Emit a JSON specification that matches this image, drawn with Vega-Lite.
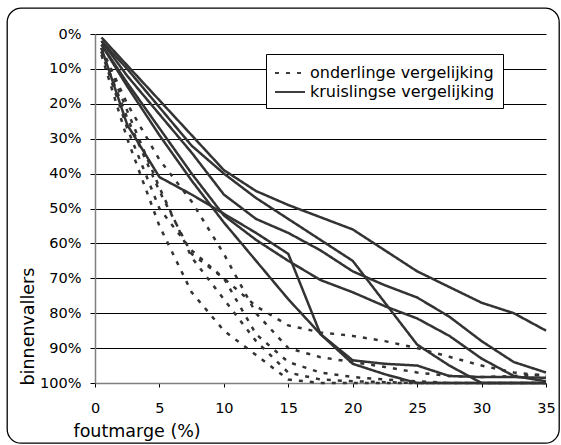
{
  "$schema": "https://vega.github.io/schema/vega-lite/v6.json",
  "width": 552,
  "height": 435,
  "autosize": {"type": "none"},
  "padding": {"left": 7, "top": 8, "right": 2, "bottom": 2},
  "background": "white",
  "config": {
    "view": {"stroke": "#000", "strokeWidth": 1.3, "cornerRadius": 14, "fill": "white"},
    "font": "DejaVu Sans"
  },
  "data": {"values": [
    {"s":"S1","t":"kruislingse vergelijking","x":0.5,"y":1},{"s":"S1","t":"kruislingse vergelijking","x":2.5,"y":9},{"s":"S1","t":"kruislingse vergelijking","x":5,"y":19},{"s":"S1","t":"kruislingse vergelijking","x":7.5,"y":29},{"s":"S1","t":"kruislingse vergelijking","x":10,"y":39},{"s":"S1","t":"kruislingse vergelijking","x":12.5,"y":45},{"s":"S1","t":"kruislingse vergelijking","x":15,"y":49},{"s":"S1","t":"kruislingse vergelijking","x":17.5,"y":52.5},{"s":"S1","t":"kruislingse vergelijking","x":20,"y":56},{"s":"S1","t":"kruislingse vergelijking","x":22.5,"y":62},{"s":"S1","t":"kruislingse vergelijking","x":25,"y":68},{"s":"S1","t":"kruislingse vergelijking","x":27.5,"y":72.5},{"s":"S1","t":"kruislingse vergelijking","x":30,"y":77},{"s":"S1","t":"kruislingse vergelijking","x":32.5,"y":80},{"s":"S1","t":"kruislingse vergelijking","x":35,"y":85},
    {"s":"S2","t":"kruislingse vergelijking","x":0.5,"y":2},{"s":"S2","t":"kruislingse vergelijking","x":2.5,"y":12},{"s":"S2","t":"kruislingse vergelijking","x":5,"y":23},{"s":"S2","t":"kruislingse vergelijking","x":7.5,"y":34},{"s":"S2","t":"kruislingse vergelijking","x":10,"y":46},{"s":"S2","t":"kruislingse vergelijking","x":12.5,"y":53},{"s":"S2","t":"kruislingse vergelijking","x":15,"y":57},{"s":"S2","t":"kruislingse vergelijking","x":17.5,"y":62},{"s":"S2","t":"kruislingse vergelijking","x":20,"y":68},{"s":"S2","t":"kruislingse vergelijking","x":22.5,"y":72},{"s":"S2","t":"kruislingse vergelijking","x":25,"y":75.5},{"s":"S2","t":"kruislingse vergelijking","x":27.5,"y":81},{"s":"S2","t":"kruislingse vergelijking","x":30,"y":88},{"s":"S2","t":"kruislingse vergelijking","x":32.5,"y":94},{"s":"S2","t":"kruislingse vergelijking","x":35,"y":97},
    {"s":"S3","t":"kruislingse vergelijking","x":0.5,"y":3},{"s":"S3","t":"kruislingse vergelijking","x":2.5,"y":14},{"s":"S3","t":"kruislingse vergelijking","x":5,"y":27},{"s":"S3","t":"kruislingse vergelijking","x":7.5,"y":40},{"s":"S3","t":"kruislingse vergelijking","x":10,"y":52},{"s":"S3","t":"kruislingse vergelijking","x":12.5,"y":59},{"s":"S3","t":"kruislingse vergelijking","x":15,"y":65},{"s":"S3","t":"kruislingse vergelijking","x":17.5,"y":70.5},{"s":"S3","t":"kruislingse vergelijking","x":20,"y":74},{"s":"S3","t":"kruislingse vergelijking","x":22.5,"y":78},{"s":"S3","t":"kruislingse vergelijking","x":25,"y":81.5},{"s":"S3","t":"kruislingse vergelijking","x":27.5,"y":86.5},{"s":"S3","t":"kruislingse vergelijking","x":30,"y":93},{"s":"S3","t":"kruislingse vergelijking","x":32.5,"y":98},{"s":"S3","t":"kruislingse vergelijking","x":35,"y":99.5},
    {"s":"S4","t":"kruislingse vergelijking","x":0.5,"y":2},{"s":"S4","t":"kruislingse vergelijking","x":2.5,"y":10},{"s":"S4","t":"kruislingse vergelijking","x":5,"y":21},{"s":"S4","t":"kruislingse vergelijking","x":7.5,"y":32},{"s":"S4","t":"kruislingse vergelijking","x":10,"y":40},{"s":"S4","t":"kruislingse vergelijking","x":12.5,"y":47},{"s":"S4","t":"kruislingse vergelijking","x":15,"y":53},{"s":"S4","t":"kruislingse vergelijking","x":17.5,"y":59},{"s":"S4","t":"kruislingse vergelijking","x":20,"y":65},{"s":"S4","t":"kruislingse vergelijking","x":22.5,"y":77},{"s":"S4","t":"kruislingse vergelijking","x":25,"y":89},{"s":"S4","t":"kruislingse vergelijking","x":27.5,"y":95},{"s":"S4","t":"kruislingse vergelijking","x":30,"y":100},{"s":"S4","t":"kruislingse vergelijking","x":32.5,"y":100},{"s":"S4","t":"kruislingse vergelijking","x":35,"y":100},
    {"s":"S5","t":"kruislingse vergelijking","x":0.5,"y":4},{"s":"S5","t":"kruislingse vergelijking","x":2.5,"y":26},{"s":"S5","t":"kruislingse vergelijking","x":5,"y":41},{"s":"S5","t":"kruislingse vergelijking","x":7.5,"y":46},{"s":"S5","t":"kruislingse vergelijking","x":10,"y":51.5},{"s":"S5","t":"kruislingse vergelijking","x":12.5,"y":57},{"s":"S5","t":"kruislingse vergelijking","x":15,"y":63},{"s":"S5","t":"kruislingse vergelijking","x":17.5,"y":86},{"s":"S5","t":"kruislingse vergelijking","x":20,"y":93.5},{"s":"S5","t":"kruislingse vergelijking","x":22.5,"y":94.5},{"s":"S5","t":"kruislingse vergelijking","x":25,"y":95},{"s":"S5","t":"kruislingse vergelijking","x":27.5,"y":98},{"s":"S5","t":"kruislingse vergelijking","x":30,"y":98.3},{"s":"S5","t":"kruislingse vergelijking","x":32.5,"y":98.3},{"s":"S5","t":"kruislingse vergelijking","x":35,"y":98.5},
    {"s":"S6","t":"kruislingse vergelijking","x":0.5,"y":3},{"s":"S6","t":"kruislingse vergelijking","x":2.5,"y":15},{"s":"S6","t":"kruislingse vergelijking","x":5,"y":29},{"s":"S6","t":"kruislingse vergelijking","x":7.5,"y":42},{"s":"S6","t":"kruislingse vergelijking","x":10,"y":54},{"s":"S6","t":"kruislingse vergelijking","x":12.5,"y":65},{"s":"S6","t":"kruislingse vergelijking","x":15,"y":76},{"s":"S6","t":"kruislingse vergelijking","x":17.5,"y":86},{"s":"S6","t":"kruislingse vergelijking","x":20,"y":94.5},{"s":"S6","t":"kruislingse vergelijking","x":22.5,"y":97.5},{"s":"S6","t":"kruislingse vergelijking","x":25,"y":100},{"s":"S6","t":"kruislingse vergelijking","x":27.5,"y":100},{"s":"S6","t":"kruislingse vergelijking","x":30,"y":100},{"s":"S6","t":"kruislingse vergelijking","x":32.5,"y":100},{"s":"S6","t":"kruislingse vergelijking","x":35,"y":100},
    {"s":"D1","t":"onderlinge vergelijking","x":0.5,"y":6},{"s":"D1","t":"onderlinge vergelijking","x":2.5,"y":30},{"s":"D1","t":"onderlinge vergelijking","x":5,"y":55},{"s":"D1","t":"onderlinge vergelijking","x":7.5,"y":74},{"s":"D1","t":"onderlinge vergelijking","x":10,"y":85},{"s":"D1","t":"onderlinge vergelijking","x":12.5,"y":92},{"s":"D1","t":"onderlinge vergelijking","x":15,"y":99},{"s":"D1","t":"onderlinge vergelijking","x":17.5,"y":100},{"s":"D1","t":"onderlinge vergelijking","x":20,"y":100},{"s":"D1","t":"onderlinge vergelijking","x":25,"y":100},{"s":"D1","t":"onderlinge vergelijking","x":30,"y":100},{"s":"D1","t":"onderlinge vergelijking","x":35,"y":100},
    {"s":"D2","t":"onderlinge vergelijking","x":0.5,"y":5},{"s":"D2","t":"onderlinge vergelijking","x":2.5,"y":24},{"s":"D2","t":"onderlinge vergelijking","x":5,"y":45},{"s":"D2","t":"onderlinge vergelijking","x":7.5,"y":63},{"s":"D2","t":"onderlinge vergelijking","x":10,"y":70},{"s":"D2","t":"onderlinge vergelijking","x":12.5,"y":78},{"s":"D2","t":"onderlinge vergelijking","x":15,"y":83.5},{"s":"D2","t":"onderlinge vergelijking","x":17.5,"y":85.5},{"s":"D2","t":"onderlinge vergelijking","x":20,"y":86.5},{"s":"D2","t":"onderlinge vergelijking","x":22.5,"y":88},{"s":"D2","t":"onderlinge vergelijking","x":25,"y":90},{"s":"D2","t":"onderlinge vergelijking","x":27.5,"y":92.5},{"s":"D2","t":"onderlinge vergelijking","x":30,"y":95},{"s":"D2","t":"onderlinge vergelijking","x":32.5,"y":97},{"s":"D2","t":"onderlinge vergelijking","x":35,"y":98},
    {"s":"D3","t":"onderlinge vergelijking","x":0.5,"y":4},{"s":"D3","t":"onderlinge vergelijking","x":2.5,"y":20},{"s":"D3","t":"onderlinge vergelijking","x":5,"y":36},{"s":"D3","t":"onderlinge vergelijking","x":7.5,"y":48},{"s":"D3","t":"onderlinge vergelijking","x":10,"y":63},{"s":"D3","t":"onderlinge vergelijking","x":12.5,"y":80},{"s":"D3","t":"onderlinge vergelijking","x":15,"y":90},{"s":"D3","t":"onderlinge vergelijking","x":17.5,"y":92.6},{"s":"D3","t":"onderlinge vergelijking","x":20,"y":94},{"s":"D3","t":"onderlinge vergelijking","x":22.5,"y":95.4},{"s":"D3","t":"onderlinge vergelijking","x":25,"y":97},{"s":"D3","t":"onderlinge vergelijking","x":27.5,"y":98},{"s":"D3","t":"onderlinge vergelijking","x":30,"y":98.3},{"s":"D3","t":"onderlinge vergelijking","x":32.5,"y":98},{"s":"D3","t":"onderlinge vergelijking","x":35,"y":97.5},
    {"s":"D4","t":"onderlinge vergelijking","x":0.5,"y":5},{"s":"D4","t":"onderlinge vergelijking","x":2.5,"y":27},{"s":"D4","t":"onderlinge vergelijking","x":5,"y":50},{"s":"D4","t":"onderlinge vergelijking","x":7.5,"y":62},{"s":"D4","t":"onderlinge vergelijking","x":10,"y":70},{"s":"D4","t":"onderlinge vergelijking","x":12.5,"y":86},{"s":"D4","t":"onderlinge vergelijking","x":15,"y":94},{"s":"D4","t":"onderlinge vergelijking","x":17.5,"y":97},{"s":"D4","t":"onderlinge vergelijking","x":20,"y":98.3},{"s":"D4","t":"onderlinge vergelijking","x":22.5,"y":99},{"s":"D4","t":"onderlinge vergelijking","x":25,"y":99.5},{"s":"D4","t":"onderlinge vergelijking","x":27.5,"y":100},{"s":"D4","t":"onderlinge vergelijking","x":30,"y":100},{"s":"D4","t":"onderlinge vergelijking","x":35,"y":100},
    {"s":"D5","t":"onderlinge vergelijking","x":0.5,"y":4},{"s":"D5","t":"onderlinge vergelijking","x":2.5,"y":22},{"s":"D5","t":"onderlinge vergelijking","x":5,"y":44},{"s":"D5","t":"onderlinge vergelijking","x":7.5,"y":64},{"s":"D5","t":"onderlinge vergelijking","x":10,"y":76},{"s":"D5","t":"onderlinge vergelijking","x":12.5,"y":88},{"s":"D5","t":"onderlinge vergelijking","x":15,"y":97},{"s":"D5","t":"onderlinge vergelijking","x":17.5,"y":99},{"s":"D5","t":"onderlinge vergelijking","x":20,"y":99.5},{"s":"D5","t":"onderlinge vergelijking","x":25,"y":100},{"s":"D5","t":"onderlinge vergelijking","x":30,"y":100},{"s":"D5","t":"onderlinge vergelijking","x":35,"y":100}
  ]},
  "mark": {"type": "line", "color": "#333333", "strokeWidth": 2.5},
  "encoding": {
    "x": {
      "field": "x", "type": "quantitative",
      "scale": {"domain": [0, 35], "range": [88, 539], "nice": false, "zero": false},
      "axis": {
        "values": [0, 5, 10, 15, 20, 25, 30, 35], "grid": false, "offset": -60,
        "tickSize": 4, "tickColor": "#000", "domainColor": "#808080", "domainWidth": 1.5,
        "labelFontSize": 14.5, "labelColor": "#000", "labelPadding": 14, "labelFlush": false,
        "title": "foutmarge (%)", "titleFontSize": 17.5, "titleFontWeight": "normal", "titleColor": "#000",
        "titleX": 66, "titleY": 53, "titleAlign": "left", "titleBaseline": "alphabetic"
      }
    },
    "y": {
      "field": "y", "type": "quantitative",
      "scale": {"domain": [0, 100], "range": [26, 375], "nice": false, "zero": false},
      "axis": {
        "values": [0, 10, 20, 30, 40, 50, 60, 70, 80, 90, 100], "grid": true,
        "gridColor": "#000", "gridWidth": 1, "gridOpacity": 1, "offset": -88,
        "tickSize": 5, "tickColor": "#000", "domainColor": "#808080", "domainWidth": 1.5,
        "labelFontSize": 14.5, "labelColor": "#000", "labelPadding": 9, "labelFlush": false,
        "labelExpr": "datum.value + '%'",
        "title": "binnenvallers", "titleFontSize": 17.5, "titleFontWeight": "normal", "titleColor": "#000",
        "titleX": -62, "titleY": 377, "titleAlign": "left", "titleBaseline": "alphabetic", "titleAngle": -90
      }
    },
    "detail": {"field": "s"},
    "strokeDash": {
      "field": "t", "type": "nominal",
      "scale": {"domain": ["onderlinge vergelijking", "kruislingse vergelijking"], "range": [[4, 7], [1, 0]]},
      "legend": {
        "title": null,
        "orient": "none", "legendX": 259, "legendY": 46,
        "strokeColor": "#000", "fillColor": "#fff", "padding": 8,
        "labelFontSize": 16, "labelColor": "#000", "labelLimit": 400, "labelOffset": 14,
        "symbolType": "M-1,0H2", "symbolSize": 400, "symbolStrokeColor": "#000", "symbolStrokeWidth": 1.3,
        "rowPadding": 0
      }
    }
  }
}
